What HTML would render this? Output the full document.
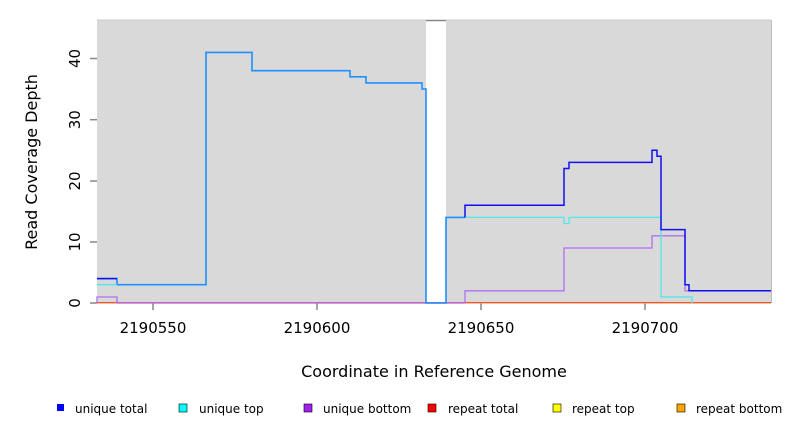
<!DOCTYPE html>
<html><head><style>body{margin:0;background:#fff}</style></head><body>
<svg width="792" height="432" xmlns="http://www.w3.org/2000/svg" font-family="DejaVu Sans, Liberation Sans, sans-serif">
<rect x="97" y="20" width="674" height="283" fill="#d9d9d9"/>
<rect x="426" y="20" width="20" height="283" fill="#fff"/>
<line x1="426" y1="20.5" x2="446" y2="20.5" stroke="#888" stroke-width="1.5"/>
<line x1="771.5" y1="20" x2="771.5" y2="303" stroke="#bbb"/>
<line x1="97" y1="20" x2="426" y2="20" stroke="#ccc"/>
<line x1="446" y1="20" x2="771" y2="20" stroke="#ccc"/>
<g stroke="#888" stroke-width="1.5">
<line x1="90" y1="303" x2="97" y2="303"/><line x1="90" y1="242" x2="97" y2="242"/><line x1="90" y1="181" x2="97" y2="181"/><line x1="90" y1="119.7" x2="97" y2="119.7"/><line x1="90" y1="58.5" x2="97" y2="58.5"/>
<line x1="153" y1="303" x2="153" y2="310"/><line x1="317" y1="303" x2="317" y2="310"/><line x1="481" y1="303" x2="481" y2="310"/><line x1="645" y1="303" x2="645" y2="310"/>
</g>
<g font-size="15" fill="#000" text-anchor="middle">
<text transform="translate(75,303) rotate(-90)" dy="5">0</text>
<text transform="translate(75,242) rotate(-90)" dy="5">10</text>
<text transform="translate(75,181) rotate(-90)" dy="5">20</text>
<text transform="translate(75,119.7) rotate(-90)" dy="5">30</text>
<text transform="translate(75,58.5) rotate(-90)" dy="5">40</text>
<text x="153" y="333">2190550</text><text x="317" y="333">2190600</text><text x="481" y="333">2190650</text><text x="645" y="333">2190700</text>
<text x="434" y="377" font-size="16">Coordinate in Reference Genome</text>
<text transform="translate(37,162) rotate(-90)" font-size="16">Read Coverage Depth</text>
</g>
<g fill="none" stroke-width="1.3">
<line x1="97" y1="303" x2="771" y2="303" stroke="#ffa500"/>
<line x1="97" y1="302.5" x2="771" y2="302.5" stroke="#e05070" stroke-width="1"/>
<polyline stroke="#b070f0" points="97,303 97,297 117,297 117,303 465,303 465,290.8 564,290.8 564,248 652,248 652,235.8 685,235.8 685,290.8 771,290.8"/>
<polyline stroke="#50e8e8" points="446,217.4 564,217.4 564,223.5 569,223.5 569,217.4 661,217.4 661,296.9 692,296.9 692,303"/>
<polyline stroke="#1e90ff" stroke-width="1.6" points="97,278.6 117,278.6 117,284.7 206,284.7 206,52.4 252,52.4 252,70.7 350,70.7 350,76.8 366,76.8 366,82.9 422,82.9 422,89 426,89 426,303 446,303 446,217.4 465,217.4"/>
<polyline stroke="#1010f0" stroke-width="1.5" points="465,217.4 465,205.2 564,205.2 564,168.5 569,168.5 569,162.4 652,162.4 652,150.2 657,150.2 657,156.3 661,156.3 661,229.6 685,229.6 685,284.7 689,284.7 689,290.8 771,290.8"/>
</g>
<line x1="97" y1="278.6" x2="117" y2="278.6" stroke="#1010f0" stroke-width="1.5"/>
<line x1="97" y1="284.7" x2="117" y2="284.7" stroke="#50e8e8" stroke-width="1.3"/>
<g font-size="12" fill="#000" stroke="#000" stroke-width="0.6">
<rect x="57" y="404" width="7" height="7" fill="#0000ff" stroke="none"/>
<rect x="179" y="404" width="8" height="8" fill="#00ffff"/>
<rect x="304" y="404" width="8" height="8" fill="#a020f0"/>
<rect x="428" y="404" width="8" height="8" fill="#ff0000"/>
<rect x="553" y="404" width="8" height="8" fill="#ffff00"/>
<rect x="677" y="404" width="8" height="8" fill="#ffa500"/>
</g>
<g font-size="12" fill="#000">
<text x="75" y="413">unique total</text>
<text x="199" y="413">unique top</text>
<text x="323" y="413">unique bottom</text>
<text x="448" y="413">repeat total</text>
<text x="572" y="413">repeat top</text>
<text x="696" y="413">repeat bottom</text>
</g>
</svg>
</body></html>
